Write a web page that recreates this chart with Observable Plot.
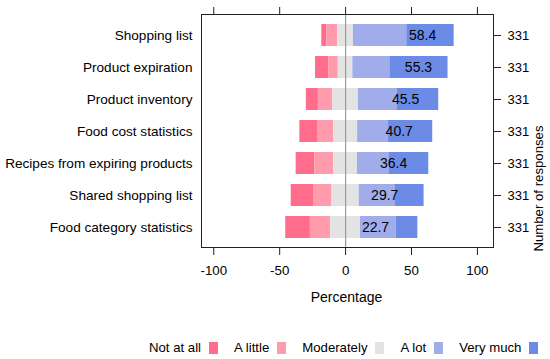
<!DOCTYPE html>
<html>
<head>
<meta charset="utf-8">
<script src="https://cdn.jsdelivr.net/npm/d3@7"></script>
<script src="https://cdn.jsdelivr.net/npm/@observablehq/plot@0.6"></script>
<style>
  body { margin: 0; background: white; font-family: "Liberation Sans", Arial, sans-serif; overflow: hidden; }
  #legend { display: flex; align-items: center; height: 29px; padding-left: 149px; font-size: 13.2px; color: #000; white-space: nowrap; width: 550px; box-sizing: border-box; }
  #legend .item { display: flex; align-items: center; margin-right: 16.5px; flex-shrink: 0; }
  #legend .item:last-child { margin-right: 0; }
  #legend .sw { width: 9px; height: 12px; margin-left: 7.5px; display: inline-block; flex-shrink: 0; }
</style>
</head>
<body>
<div id="chart"></div>
<div id="legend"></div>
<script>
const categories = ["Shopping list", "Product expiration", "Product inventory", "Food cost statistics",
  "Recipes from expiring products", "Shared shopping list", "Food category statistics"];
const levels = ["Not at all", "A little", "Moderately", "A lot", "Very much"];
const colors = ["#FF6C8C", "#FF9BAC", "#E3E3E3", "#A1ADEB", "#6C8BE6"];
const notAtAll   = [3.8, 10.1, 9.1, 13.4, 14.1, 16.9, 18.7];
const aLittle    = [8.3, 7.2, 10.9, 12.2, 14.4, 14.0, 15.4];
const moderately = [11.9, 11.0, 19.5, 18.2, 18.0, 20.7, 22.6];
const aLot       = [40.5, 28.1, 29.6, 23.5, 24.3, 27.1, 27.1];
const veryMuch   = [35.9, 44.1, 31.3, 33.5, 29.8, 22.1, 16.4];
const barLabels  = [58.4, 55.3, 45.5, 40.7, 36.4, 29.7, 22.7];
const responses  = [331, 331, 331, 331, 331, 331, 331];
const xTicks = [-100, -50, 0, 50, 100];

const series = [notAtAll, aLittle, moderately, aLot, veryMuch];
const segments = [];
categories.forEach((c, i) => {
  let start = -(notAtAll[i] + aLittle[i] + moderately[i] / 2);
  series.forEach((s, k) => {
    segments.push({category: c, level: levels[k], x1: start, x2: start + s[i]});
    start += s[i];
  });
});
const labelData = categories.map((c, i) => ({category: c, value: barLabels[i]}));

const chart = Plot.plot({
  width: 550,
  height: 333,
  marginLeft: 201,
  marginRight: 57,
  marginTop: 14,
  marginBottom: 86,
  style: {fontFamily: '"Liberation Sans", Arial, sans-serif', fontSize: "13.3px", color: "#000", background: "white"},
  x: {domain: [-109.3, 112.2], ticks: xTicks},
  y: {domain: categories, paddingInner: 0.32, paddingOuter: 0.28},
  color: {domain: levels, range: colors},
  marks: [
    Plot.barX(segments, {y: "category", x1: "x1", x2: "x2", fill: "level"}),
    Plot.ruleX([0], {stroke: "#999", strokeWidth: 1.2}),
    Plot.text(labelData, {x: "value", y: "category", text: d => d.value.toFixed(1), fontSize: 14, fill: "#000"}),
    Plot.frame({stroke: "#222"}),
    Plot.axisX({anchor: "bottom", ticks: xTicks, tickSize: 8, tickPadding: 10, label: null, stroke: "#222",
      fontSize: 13.3, tickFormat: d => String(d)}),
    Plot.axisX({anchor: "top", ticks: xTicks, tickSize: 8, tickFormat: () => "", label: null, stroke: "#222"}),
    Plot.axisY({anchor: "left", tickSize: 0, tickPadding: 9, label: null, fontSize: 13.6}),
    Plot.axisY({anchor: "right", tickSize: 7, tickPadding: 7, label: null, stroke: "#222", fontSize: 13,
      tickFormat: d => String(responses[categories.indexOf(d)])}),
    Plot.text(["Percentage"], {frameAnchor: "bottom", lineAnchor: "middle", dx: -1, dy: 50, fontSize: 14}),
    Plot.text(["Number of responses"], {frameAnchor: "right", rotate: -90, dx: 45, dy: -5.5, fontSize: 13.2})
  ]
});
document.getElementById("chart").appendChild(chart);

const legend = document.getElementById("legend");
levels.forEach((l, k) => {
  const item = document.createElement("div");
  item.className = "item";
  const t = document.createElement("span");
  t.textContent = l;
  const sw = document.createElement("span");
  sw.className = "sw";
  sw.style.background = colors[k];
  item.appendChild(t);
  item.appendChild(sw);
  legend.appendChild(item);
});
</script>
</body>
</html>
